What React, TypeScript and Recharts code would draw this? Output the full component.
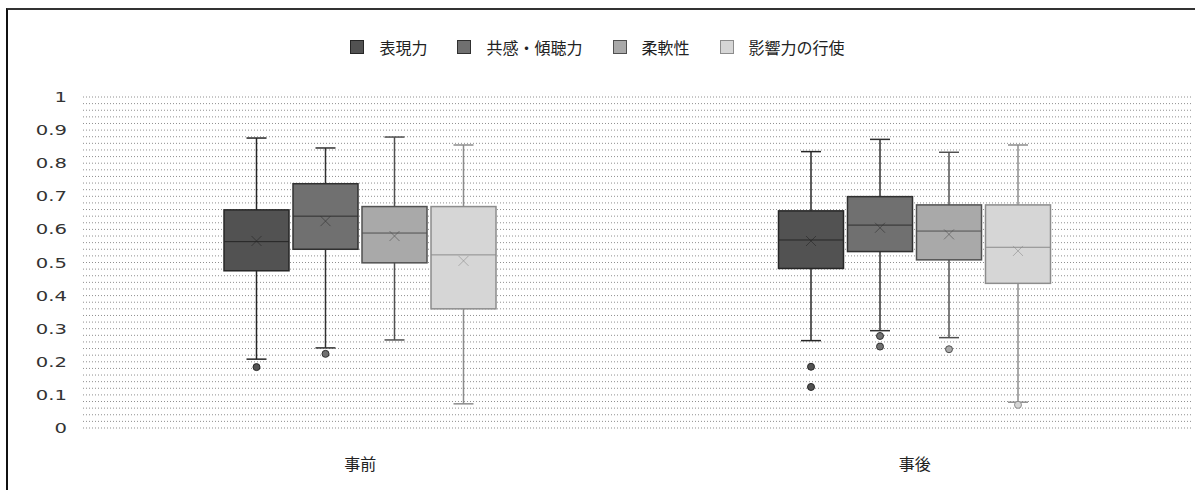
import React from "react"
import { ComposedChart, Bar, XAxis, YAxis, CartesianGrid, Legend } from "recharts"

const categories = ["事前", "事後"]
const seriesNames = ["表現力", "共感・傾聴力", "柔軟性", "影響力の行使"]
const seriesColors = ["#525252", "#707070", "#a9a9a9", "#d6d6d6"]
const edgeColors = ["#262626", "#303030", "#505050", "#8c8c8c"]

// one entry per series, each holding [事前, 事後]
const whiskerLow = [[0.208, 0.264], [0.242, 0.294], [0.266, 0.273], [0.073, 0.078]]
const q1Values = [[0.475, 0.482], [0.54, 0.533], [0.499, 0.508], [0.36, 0.437]]
const medianValues = [[0.563, 0.568], [0.64, 0.613], [0.589, 0.595], [0.523, 0.546]]
const q3Values = [[0.659, 0.656], [0.738, 0.699], [0.669, 0.674], [0.669, 0.674]]
const whiskerHigh = [[0.876, 0.835], [0.846, 0.872], [0.879, 0.833], [0.855, 0.855]]
const meanValues = [[0.565, 0.565], [0.625, 0.605], [0.58, 0.585], [0.505, 0.535]]
const outlierValues = [
  [[0.184], [0.185, 0.124]],
  [[0.224], [0.278, 0.246]],
  [[], [0.238]],
  [[], [0.07]],
]

const labelTicks = [0, 0.1, 0.2, 0.3, 0.4, 0.5, 0.6, 0.7, 0.8, 0.9, 1]
// minor grid every 0.02
const gridTicks = Array.from({ length: 51 }, (_, i) => i / 50)

const rows = categories.map((name, c) => {
  const row: any = { name }
  seriesNames.forEach((_, s) => {
    row[`s${s}`] = [whiskerLow[s][c], whiskerHigh[s][c]]
    row[`st${s}`] = {
      lo: whiskerLow[s][c],
      q1: q1Values[s][c],
      med: medianValues[s][c],
      q3: q3Values[s][c],
      hi: whiskerHigh[s][c],
      mean: meanValues[s][c],
      out: outlierValues[s][c],
    }
  })
  return row
})

const BoxShape = (props: any) => {
  const { x, y, width, height, payload, s } = props
  const st = payload[`st${s}`]
  const top = Math.min(y, y + height)
  const h = Math.abs(height)
  const px = (v: number) => top + ((st.hi - v) / (st.hi - st.lo)) * h
  const cx = x + width / 2
  const cap = 10
  const fill = seriesColors[s]
  const edge = edgeColors[s]
  const yq3 = px(st.q3)
  const yq1 = px(st.q1)
  const ym = px(st.mean)
  return (
    <g>
      <line x1={cx} x2={cx} y1={px(st.hi)} y2={yq3} stroke={edge} strokeWidth={1.5} />
      <line x1={cx} x2={cx} y1={yq1} y2={px(st.lo)} stroke={edge} strokeWidth={1.5} />
      <line x1={cx - cap} x2={cx + cap} y1={px(st.hi)} y2={px(st.hi)} stroke={edge} strokeWidth={1.5} />
      <line x1={cx - cap} x2={cx + cap} y1={px(st.lo)} y2={px(st.lo)} stroke={edge} strokeWidth={1.5} />
      <rect x={x} y={yq3} width={width} height={yq1 - yq3} fill={fill} stroke={edge} strokeWidth={1.5} />
      <line x1={x} x2={x + width} y1={px(st.med)} y2={px(st.med)} stroke={edge} strokeWidth={1} />
      <path
        d={`M${cx - 5},${ym - 5}L${cx + 5},${ym + 5}M${cx + 5},${ym - 5}L${cx - 5},${ym + 5}`}
        stroke={edge}
        strokeOpacity={0.6}
        strokeWidth={1}
      />
      {st.out.map((v: number, i: number) => (
        <circle key={i} cx={cx} cy={px(v)} r={3.5} fill={fill} stroke={edge} strokeWidth={1} />
      ))}
    </g>
  )
}

const YTick = (props: any) => {
  const { y, payload } = props
  const v = payload.value
  if (!labelTicks.some((t) => Math.abs(t - v) < 1e-6)) return null
  const label = v === 0 ? "0" : v === 1 ? "1" : v.toFixed(1)
  return (
    <g transform={`translate(67, ${y})`}>
      <text transform="scale(1.4,1)" textAnchor="end" dy="0.36em" fontSize={14} fill="#333" fontFamily="DejaVu Sans">
        {label}
      </text>
    </g>
  )
}

const XTick = (props: any) => {
  const { x, payload } = props
  return (
    <text x={x} y={463} textAnchor="middle" dominantBaseline="central" fontSize={16} fill="#222">
      {payload.value}
    </text>
  )
}

const LegendContent = () => (
  <div style={{ display: "flex", justifyContent: "center", alignItems: "center", height: 22, width: 1195 }}>
    {seriesNames.map((n, i) => (
      <div key={n} style={{ display: "flex", alignItems: "center", marginRight: i < 3 ? 30 : 0 }}>
        <div style={{ width: 12, height: 12, background: seriesColors[i], border: `1px solid ${edgeColors[i]}`, marginRight: 15 }} />
        <span style={{ fontSize: 16, color: "#222" }}>{n}</span>
      </div>
    ))}
  </div>
)

export default function App() {
  return (
    <div style={{ position: "absolute", left: 0, top: 0, width: 1195, height: 490, background: "#fff", fontFamily: "'Noto Sans CJK JP', sans-serif" }}>
      <ComposedChart
        width={1195}
        height={490}
        data={rows}
        margin={{ top: 75, right: 3, bottom: 0, left: 0 }}
        barSize={65}
        barGap={4}
      >
        <CartesianGrid vertical={false} stroke="#8f8f8f" strokeDasharray="1 2" />
        <XAxis dataKey="name" axisLine={false} tickLine={false} height={62} tick={<XTick />} interval={0} />
        <YAxis
          type="number"
          domain={[0, 1]}
          ticks={gridTicks}
          interval={0}
          axisLine={false}
          tickLine={false}
          width={83}
          tick={<YTick />}
        />
        <Legend verticalAlign="top" wrapperStyle={{ top: 36, left: 0, width: 1195 }} content={<LegendContent />} />
        {seriesNames.map((n, i) => (
          <Bar
            key={n}
            dataKey={`s${i}`}
            name={n}
            fill={seriesColors[i]}
            isAnimationActive={false}
            shape={(p: any) => <BoxShape {...p} s={i} />}
          />
        ))}
      </ComposedChart>
      <div
        style={{
          position: "absolute",
          left: 6,
          top: 8,
          right: 0,
          bottom: 0,
          borderLeft: "2px solid #111",
          borderTop: "2px solid #333",
          pointerEvents: "none",
        }}
      />
    </div>
  )
}
